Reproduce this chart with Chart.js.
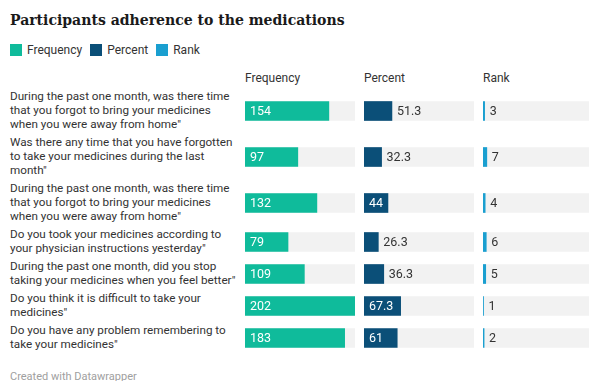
<!DOCTYPE html>
<html>
<head>
<meta charset="utf-8">
<script src="https://cdn.jsdelivr.net/npm/chart.js@4"></script>
<style>
  html, body { margin: 0; padding: 0; background: #fff; }
  body { width: 589px; height: 381px; overflow: hidden; position: relative; font-family: Roboto, sans-serif; color: #333; }
  #title { position: absolute; left: 10px; top: 10px; font-family: "DejaVu Serif", serif; font-weight: bold; font-size: 15.6px; font-stretch: condensed; color: #1a1a1a; white-space: nowrap; }
  #legend { position: absolute; left: 10px; top: 43px; font-size: 12px; display: flex; }
  #legend span.item { display: flex; align-items: center; margin-right: 8px; }
  #legend span.sw { width: 12px; height: 12px; margin-right: 5px; display: inline-block; }
  .head { position: absolute; top: 70.5px; font-size: 12px; }
  .row { position: absolute; left: 0; width: 600px; }
  .label { position: absolute; left: 10px; width: 230px; font-size: 11.7px; line-height: 14px; white-space: nowrap; }
  .row canvas { position: absolute; }
  #footer { position: absolute; left: 10px; top: 370px; font-size: 11px; color: #a0a0a0; }
</style>
</head>
<body>
<div id="title">Participants adherence to the medications</div>
<div id="legend"></div>
<div id="heads"></div>
<div id="rows"></div>
<div id="footer">Created with Datawrapper</div>
<script>
const QUESTIONS = [
    ['During the past one month, was there time', 'that you forgot to bring your medicines', 'when you were away from home"'],
    ['Was there any time that you have forgotten', 'to take your medicines during the last', 'month"'],
    ['During the past one month, was there time', 'that you forgot to bring your medicines', 'when you were away from home"'],
    ['Do you took your medicines according to', 'your physician instructions yesterday"'],
    ['During the past one month, did you stop', 'taking your medicines when you feel better"'],
    ['Do you think it is difficult to take your', 'medicines"'],
    ['Do you have any problem remembering to', 'take your medicines"']
];
const FREQUENCY = [154, 97, 132, 79, 109, 202, 183];
const PERCENT = [51.3, 32.3, 44, 26.3, 36.3, 67.3, 61];
const RANK = [3, 7, 4, 6, 5, 1, 2];
const SERIES_NAMES = ['Frequency', 'Percent', 'Rank'];
const SERIES_COLORS = ['#0fbb9b', '#0b4f78', '#1a9fd0'];

const SERIES = [FREQUENCY, PERCENT, RANK];
const AXIS_MAX = Math.max(...FREQUENCY, ...PERCENT, ...RANK);

const valueLabels = {
    id: 'valueLabels',
    afterDatasetsDraw(chart) {
        const ctx = chart.ctx;
        const bar = chart.getDatasetMeta(0).data[0];
        const value = chart.data.datasets[0].data[0];
        const text = String(value);
        ctx.save();
        ctx.font = '12.5px Roboto';
        ctx.textBaseline = 'middle';
        const w = ctx.measureText(text).width;
        const len = bar.x - bar.base;
        if (w + 6 <= len) {
            ctx.fillStyle = '#ffffff';
            ctx.fillText(text, bar.base + 5, bar.y + 0.5);
        } else {
            ctx.fillStyle = '#333333';
            ctx.fillText(text, bar.x + 5, bar.y + 0.5);
        }
        ctx.restore();
    }
};

function makeCell(canvas, value, color) {
    return new Chart(canvas.getContext('2d'), {
        type: 'bar',
        data: {
            labels: [''],
            datasets: [
                { data: [value], backgroundColor: color, barThickness: 19, grouped: false, borderWidth: 0 },
                { data: [AXIS_MAX], backgroundColor: '#f2f2f2', barThickness: 19, grouped: false, borderWidth: 0 }
            ]
        },
        options: {
            indexAxis: 'y',
            responsive: false,
            animation: false,
            events: [],
            layout: { padding: 0 },
            plugins: { legend: { display: false }, tooltip: { enabled: false } },
            scales: {
                x: { display: false, min: 0, max: AXIS_MAX },
                y: { display: false }
            }
        },
        plugins: [valueLabels]
    });
}

function main() {
    const LEGEND = document.getElementById('legend');
    SERIES_NAMES.forEach((name, i) => {
        const item = document.createElement('span');
        item.className = 'item';
        item.innerHTML = '<span class="sw" style="background:' + SERIES_COLORS[i] + '"></span>' + name;
        LEGEND.appendChild(item);
    });

    const COL_X = [245, 364, 483];
    const HEADS = document.getElementById('heads');
    SERIES_NAMES.forEach((name, i) => {
        const h = document.createElement('div');
        h.className = 'head';
        h.style.left = COL_X[i] + 'px';
        h.textContent = name;
        HEADS.appendChild(h);
    });

    const ROWS = document.getElementById('rows');
    let top = 88;
    QUESTIONS.forEach((lines, r) => {
        const height = lines.length * 14 + 4;
        const row = document.createElement('div');
        row.className = 'row';
        row.style.top = top + 'px';
        row.style.height = height + 'px';
        const label = document.createElement('div');
        label.className = 'label';
        label.style.top = '1px';
        label.innerHTML = lines.join('<br>');
        row.appendChild(label);
        SERIES.forEach((values, c) => {
            const canvas = document.createElement('canvas');
            canvas.width = 110;
            canvas.height = height;
            canvas.style.left = COL_X[c] + 'px';
            canvas.style.top = '0px';
            row.appendChild(canvas);
            makeCell(canvas, values[r], SERIES_COLORS[c]);
        });
        ROWS.appendChild(row);
        top += height;
    });
}

main();
</script>
</body>
</html>
